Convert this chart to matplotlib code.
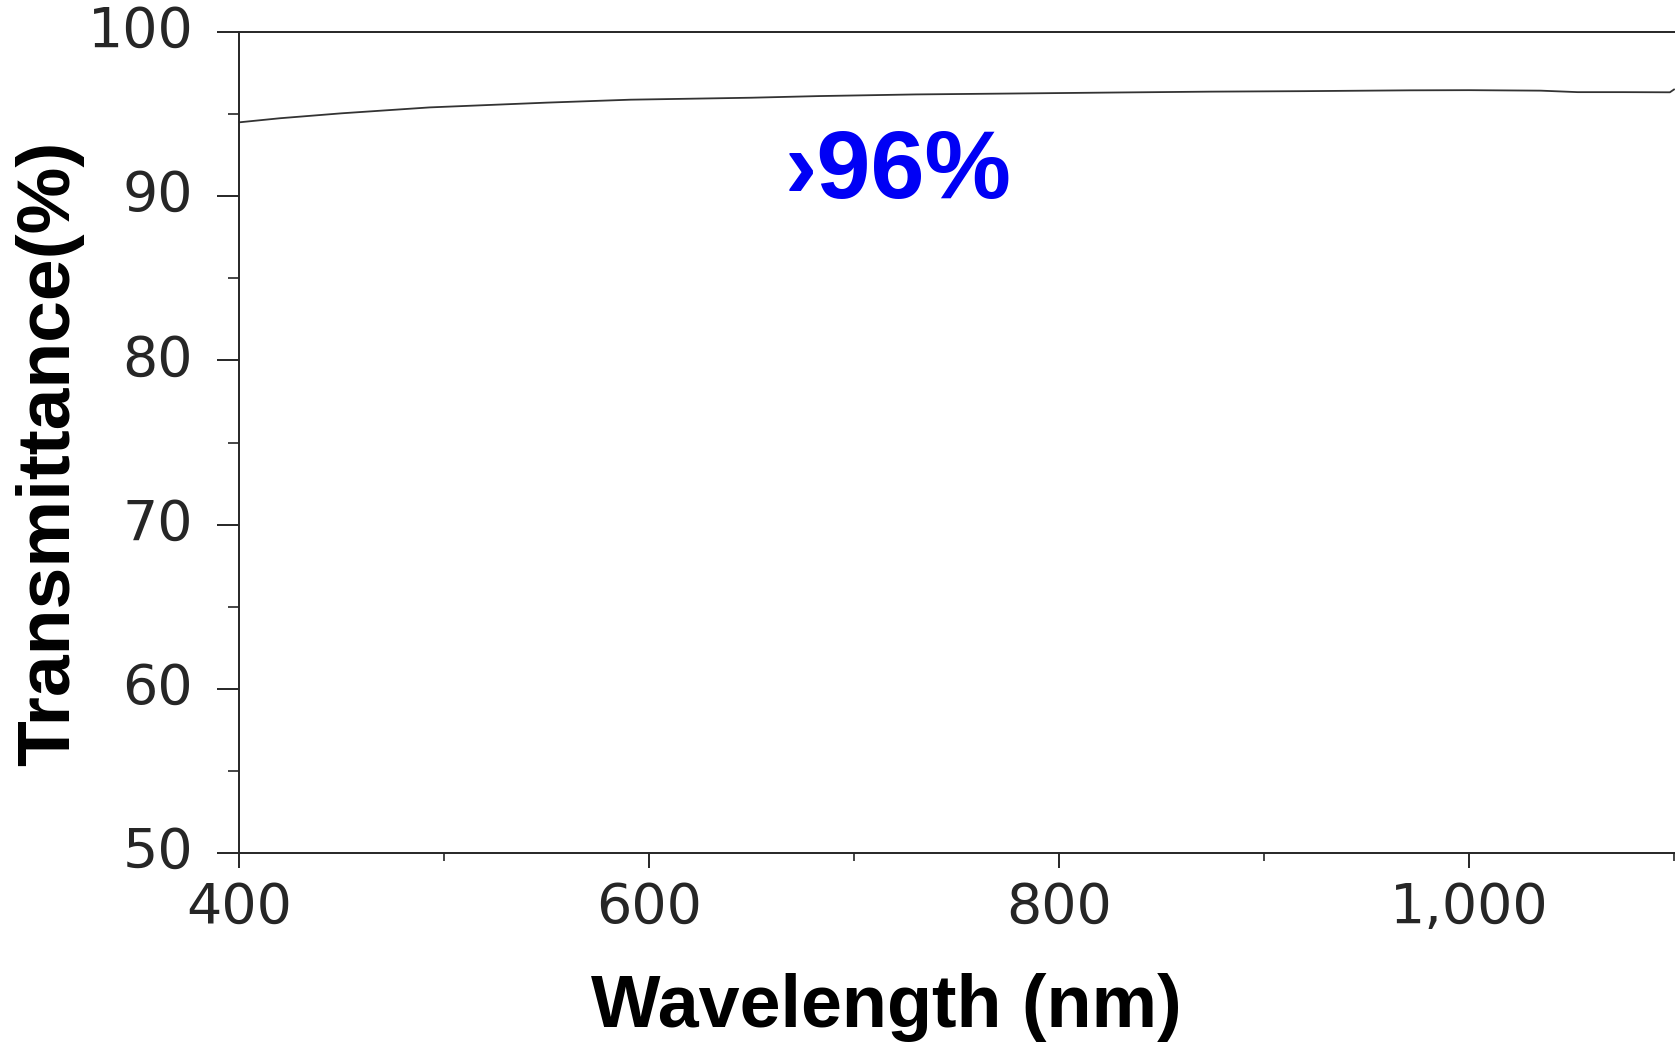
import matplotlib
matplotlib.use("Agg")
import matplotlib.pyplot as plt
from matplotlib.ticker import MultipleLocator, FuncFormatter

# transmittance curve
wavelength = [400, 420, 450, 493, 550, 591, 650, 683, 730, 781, 830, 874,
              920, 971, 1000, 1035, 1053, 1075, 1098, 1100]
transmittance = [94.5, 94.75, 95.05, 95.41, 95.7, 95.88, 96.0, 96.1, 96.2, 96.26,
                 96.32, 96.37, 96.4, 96.45, 96.46, 96.43, 96.34, 96.34, 96.33, 96.5]

x_ticks = [400, 600, 800, 1000]
y_ticks = [50, 60, 70, 80, 90, 100]
note = "\u203a96%"

axis_color = "#262626"

fig = plt.figure(figsize=(16.75, 10.47), dpi=100)
ax = fig.add_axes([0.1427, 0.1853, 0.8573, 0.7841])

ax.plot(wavelength, transmittance, color="#333333", linewidth=1.3)

ax.set_xlim(400, 1100.5)
ax.set_ylim(50, 100)
ax.set_xticks(x_ticks)
ax.set_yticks(y_ticks)
ax.xaxis.set_minor_locator(MultipleLocator(100))
ax.yaxis.set_minor_locator(MultipleLocator(5))
ax.xaxis.set_major_formatter(FuncFormatter(lambda v, p: f"{int(v):,}"))

for s in ["left", "top", "bottom"]:
    ax.spines[s].set_color(axis_color)
    ax.spines[s].set_linewidth(1.4)
ax.spines["right"].set_visible(False)

ax.tick_params(axis="y", which="major", length=16, width=1.4, color=axis_color,
               pad=17, labelsize=40, labelcolor=axis_color)
ax.tick_params(axis="y", which="minor", length=8, width=1.2, color=axis_color)
ax.tick_params(axis="x", which="major", length=11, width=1.4, color=axis_color,
               pad=9, labelsize=40, labelcolor=axis_color)
ax.tick_params(axis="x", which="minor", length=6, width=1.2, color=axis_color)
for lab in ax.get_xticklabels() + ax.get_yticklabels():
    lab.set_fontfamily("DejaVu Sans")
for lab in ax.get_yticklabels():
    lab.set_verticalalignment("center")
    lab.set_y(lab.get_position()[1])

ax.set_xlabel("Wavelength (nm)", fontfamily="Liberation Sans", fontweight="bold",
              fontsize=53, color="black")
ax.set_ylabel("Transmittance(%)", fontfamily="Liberation Sans", fontweight="bold",
              fontsize=54, color="black")
ax.xaxis.set_label_coords(0.4506, -0.1876)
ax.xaxis.label.set_verticalalignment("center")
ax.yaxis.set_label_coords(-0.1316, 0.487)
ax.yaxis.label.set_verticalalignment("center")

ax.text(666, 91.4, note, ha="left", va="center", fontfamily="Liberation Sans",
        fontweight="bold", fontsize=70, color="#0000f5")

fig.savefig("out.png", dpi=100)
